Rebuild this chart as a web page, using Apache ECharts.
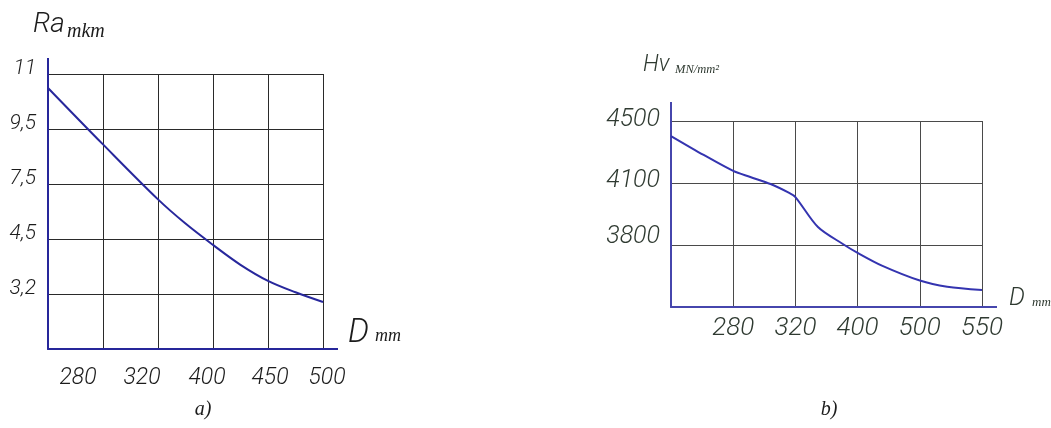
<!DOCTYPE html>
<html>
<head>
<meta charset="utf-8">
<script src="https://cdn.jsdelivr.net/npm/echarts@6/dist/echarts.min.js"></script>
<style>
  html, body { margin: 0; padding: 0; background: #ffffff; }
  #chart { width: 1051px; height: 428px; }
</style>
</head>
<body>
<div id="chart"></div>
<script>
// (a) surface roughness Ra versus diameter D
const raDiameterTicks = [280, 320, 400, 450, 500];
const raTicks = [3.2, 4.5, 7.5, 9.5, 11];
const raCurveD  = [240, 280, 320, 360, 400, 425, 450, 475, 500];
const raCurveRa = [10.62, 8.94, 6.66, 5.34, 4.36, 3.89, 3.51, 3.24, 3.01];

// (b) hardness Hv versus diameter D
const hvDiameterTicks = [280, 320, 400, 500, 550];
const hvTicks = [3800, 4100, 4500];
const hvCurveD  = [240, 261, 280, 291, 304, 316, 320, 349, 381, 400, 440, 500, 522, 550];
const hvCurveHv = [4403, 4281, 4178, 4139, 4095, 4052, 4032, 3887, 3805, 3762, 3699, 3628, 3598, 3582];

// Both scales are drawn on an evenly spaced grid: tick k sits on grid line k,
// values in between are placed linearly within their cell.
function toPos(v, ticks) {
  const n = ticks.length;
  if (v <= ticks[0]) return 1 + (v - ticks[0]) / (ticks[1] - ticks[0]);
  for (let i = 1; i < n; i++) {
    if (v <= ticks[i]) return i + (v - ticks[i - 1]) / (ticks[i] - ticks[i - 1]);
  }
  return n + (v - ticks[n - 1]) / (ticks[n - 1] - ticks[n - 2]);
}
const comma = v => String(v).replace('.', ',');

const SANS = 'Roboto, "Liberation Sans", sans-serif';
const SERIF = '"Liberation Serif", "DejaVu Serif", serif';
const INK_A = '#1c1c1c';
const INK_B = '#2f3a31';

// horizontal nudges of the hand-lettered D labels of chart (a)
const shiftA = [-25, -16, -6, 2, 4];
function shiftedRich(shifts, size, color) {
  const rich = {};
  shifts.forEach((s, i) => {
    rich['s' + i] = {
      fontFamily: SANS, fontStyle: 'italic', fontWeight: 300, fontSize: size, color: color,
      padding: s < 0 ? [0, -2 * s, 0, 0] : [0, 0, 0, 2 * s]
    };
  });
  return rich;
}
// vertical nudges of the value labels (lift above their grid line)
const liftA = [5, 5, 5, 5, 5];
const liftB = [8, 2, 1];
function liftedRich(lifts, size, color) {
  const rich = {};
  lifts.forEach((s, i) => {
    rich['s' + i] = {
      fontFamily: SANS, fontStyle: 'italic', fontWeight: 300, fontSize: size, color: color,
      padding: [0, 0, 2 * s, 0]
    };
  });
  return rich;
}

const axisBlueA = '#26269a';
const axisBlueB = '#4646ad';

const raData = raCurveD.map((d, i) => [toPos(d, raDiameterTicks), toPos(raCurveRa[i], raTicks)]);
const hvData = hvCurveD.map((d, i) => [toPos(d, hvDiameterTicks), toPos(hvCurveHv[i], hvTicks)]);

const chart = echarts.init(document.getElementById('chart'), null, { renderer: 'canvas' });

function textItem(x, y, text, font, fill, align) {
  return {
    type: 'text', x: x, y: y, silent: true,
    style: { text: text, font: font, fill: fill, align: align || 'left', verticalAlign: 'middle' }
  };
}

chart.setOption({
  animation: false,
  backgroundColor: '#ffffff',
  grid: [
    { left: 48, top: 74, width: 275, height: 275 },
    { left: 671, top: 121, width: 311, height: 186 }
  ],
  xAxis: [
    {
      gridIndex: 0, type: 'value', min: 0, max: raDiameterTicks.length, interval: 1,
      axisLine: { show: true, lineStyle: { color: axisBlueA, width: 2 }, symbol: ['none', 'rect'], symbolSize: [2, 30] },
      axisTick: { show: false },
      splitLine: { show: true, lineStyle: { color: '#2a2a2a', width: 1 } },
      axisLabel: {
        margin: 18,
        formatter: v => { const i = Math.round(v) - 1; return i < 0 ? '' : '{s' + i + '|' + raDiameterTicks[i] + '}'; },
        rich: shiftedRich(shiftA, 23, INK_A)
      }
    },
    {
      gridIndex: 1, type: 'value', min: 0, max: hvDiameterTicks.length, interval: 1,
      axisLine: { show: true, lineStyle: { color: axisBlueB, width: 2 }, symbol: ['none', 'rect'], symbolSize: [2, 30] },
      axisTick: { show: false },
      splitLine: { show: true, lineStyle: { color: '#4a4a4a', width: 1 } },
      axisLabel: {
        margin: 8,
        fontFamily: SANS, fontStyle: 'italic', fontWeight: 300, fontSize: 26, color: INK_B,
        formatter: v => { const i = Math.round(v) - 1; return i < 0 ? '' : String(hvDiameterTicks[i]); }
      }
    }
  ],
  yAxis: [
    {
      gridIndex: 0, type: 'value', min: 0, max: raTicks.length, interval: 1,
      axisLine: { show: true, lineStyle: { color: axisBlueA, width: 2 }, symbol: ['none', 'rect'], symbolSize: [2, 32] },
      axisTick: { show: false },
      splitLine: { show: true, lineStyle: { color: '#2a2a2a', width: 1 } },
      axisLabel: {
        margin: 12,
        formatter: v => { const i = Math.round(v) - 1; return i < 0 ? '' : '{s' + i + '|' + comma(raTicks[i]) + '}'; },
        rich: liftedRich(liftA, 21, INK_A)
      }
    },
    {
      gridIndex: 1, type: 'value', min: 0, max: hvTicks.length, interval: 1,
      axisLine: { show: true, lineStyle: { color: axisBlueB, width: 2 }, symbol: ['none', 'rect'], symbolSize: [2, 38] },
      axisTick: { show: false },
      splitLine: { show: true, lineStyle: { color: '#4a4a4a', width: 1 } },
      axisLabel: {
        margin: 11,
        formatter: v => { const i = Math.round(v) - 1; return i < 0 ? '' : '{s' + i + '|' + hvTicks[i] + '}'; },
        rich: liftedRich(liftB, 25, INK_B)
      }
    }
  ],
  series: [
    {
      type: 'line', xAxisIndex: 0, yAxisIndex: 0, data: raData,
      smooth: 0.35, symbol: 'none',
      lineStyle: { color: '#27279c', width: 2 }
    },
    {
      type: 'line', xAxisIndex: 1, yAxisIndex: 1, data: hvData,
      smooth: 0.3, symbol: 'none',
      lineStyle: { color: '#3434b0', width: 2 }
    }
  ],
  graphic: [
    textItem(33, 25, 'Ra', 'italic 300 28px ' + SANS, INK_A),
    textItem(67, 32, 'mkm', 'italic 20px ' + SERIF, INK_A),
    textItem(348, 334, 'D', 'italic 300 33px ' + SANS, INK_A),
    textItem(375, 336, 'mm', 'italic 18px ' + SERIF, INK_A),
    textItem(203, 410, 'a)', 'italic 20px ' + SERIF, INK_A, 'center'),
    textItem(643, 65, 'Hv', 'italic 300 23px ' + SANS, INK_B),
    textItem(675, 70, 'MN/mm²', 'italic 12.5px ' + SERIF, INK_B),
    textItem(1009, 299, 'D', 'italic 300 25px ' + SANS, INK_B),
    textItem(1032, 303, 'mm', 'italic 13px ' + SERIF, INK_B),
    textItem(829, 410, 'b)', 'italic 20px ' + SERIF, INK_A, 'center')
  ]
});
</script>
</body>
</html>
